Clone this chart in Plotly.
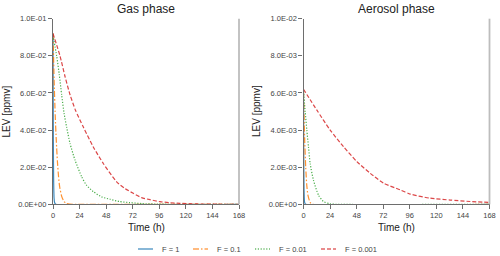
import plotly.graph_objects as go

# ---------------- data ----------------
series_names = ["F = 1", "F = 0.1", "F = 0.01", "F = 0.001"]
series_colors = ["#1f77b4", "#ff7f0e", "#2ca02c", "#d62728"]
series_dash = ["solid", "6px,2px,1.5px,2px", "1.2px,1.6px", "4px,2px"]

# Gas phase (ppmv)
gas_t_f1 = [0, 0.3, 0.6, 1.0, 1.5, 2.5, 168]
gas_v_f1 = [0.092, 0.035, 0.012, 0.003, 0.0008, 0.0, 0.0]
gas_t_f01 = [0, 1, 2, 3, 4, 5, 6, 8, 10, 12, 15, 20, 168]
gas_v_f01 = [0.092, 0.067, 0.048, 0.034, 0.023, 0.015, 0.0095, 0.004, 0.0015, 0.0005, 0.0001, 0.0, 0.0]
gas_t_f001 = [0, 3.3, 5.7, 7.8, 10, 12.3, 15.4, 19.9, 25.9, 30, 36.4, 44, 51.5, 60, 69.5, 80, 95, 110, 168]
gas_v_f001 = [0.091, 0.080, 0.0697, 0.059, 0.049, 0.0416, 0.0327, 0.0238, 0.0148, 0.0105, 0.0068,
              0.0040, 0.0027, 0.0015, 0.0009, 0.0004, 0.0001, 0.0, 0.0]
gas_t_f0001 = [0, 6.3, 10.8, 15.4, 20.3, 27.4, 36.4, 45.4, 57.5, 65, 72.5, 80, 87.6, 96.6, 105, 114.7, 130, 150, 168]
gas_v_f0001 = [0.092, 0.080, 0.069, 0.059, 0.0507, 0.0416, 0.0309, 0.022, 0.0121, 0.0085, 0.0059,
               0.0036, 0.0025, 0.0014, 0.0009, 0.0005, 0.0002, 0.00005, 0.0]

# Aerosol phase (ppmv)
aer_t_f1 = [0, 0.2, 0.5, 1, 2, 168]
aer_v_f1 = [0.0061, 0.003, 0.0008, 0.0001, 0.0, 0.0]
aer_t_f01 = [0, 0.5, 1, 2, 3, 4, 6, 8, 168]
aer_v_f01 = [0.0061, 0.0048, 0.0036, 0.0020, 0.0010, 0.0005, 0.0001, 0.0, 0.0]
aer_t_f001 = [0, 1.5, 3, 4.5, 6, 9, 13.5, 18, 24, 30, 168]
aer_v_f001 = [0.0061, 0.0050, 0.0040, 0.0031, 0.0022, 0.0013, 0.0005, 0.00015, 0.00003, 0.0, 0.0]
aer_t_f0001 = [0, 12.1, 24.1, 36.2, 48.2, 60.3, 72.3, 87.3, 96.4, 114.4, 132.5, 150.5, 168]
aer_v_f0001 = [0.0062, 0.00507, 0.0040, 0.0031, 0.0023, 0.00167, 0.00114, 0.00078, 0.00055,
               0.00033, 0.00023, 0.00015, 0.0001]

x_ticks = [0, 24, 48, 72, 96, 120, 144, 168]
gas_y_ticks = [0, 0.02, 0.04, 0.06, 0.08, 0.10]
gas_y_labels = ["0.0E+00", "2.0E-02", "4.0E-02", "6.0E-02", "8.0E-02", "1.0E-01"]
aer_y_ticks = [0, 0.002, 0.004, 0.006, 0.008, 0.010]
aer_y_labels = ["0.0E+00", "2.0E-03", "4.0E-03", "6.0E-03", "8.0E-03", "1.0E-02"]

panel_titles = ["Gas phase", "Aerosol phase"]
x_title = "Time (h)"
y_title = "LEV [ppmv]"

# ---------------- figure ----------------
FONT = "Liberation Sans, Arial, sans-serif"
W, H = 500, 256
fig = go.Figure()

gas = [(gas_t_f1, gas_v_f1), (gas_t_f01, gas_v_f01), (gas_t_f001, gas_v_f001), (gas_t_f0001, gas_v_f0001)]
aer = [(aer_t_f1, aer_v_f1), (aer_t_f01, aer_v_f01), (aer_t_f001, aer_v_f001), (aer_t_f0001, aer_v_f0001)]

for axes, data in ((("x", "y"), gas), (("x2", "y2"), aer)):
    for i, (t, v) in enumerate(data):
        fig.add_trace(go.Scatter(x=t, y=v, mode="lines", name=series_names[i], xaxis=axes[0], yaxis=axes[1],
                                 line=dict(color=series_colors[i], width=1.2, dash=series_dash[i],
                                           shape="spline", smoothing=0.6),
                                 opacity=0.85, showlegend=False))

dom_x1 = [53 / W, 239 / W]
dom_x2 = [303.5 / W, 489.5 / W]
dom_y = [(H - 204.3) / H, (H - 18.7) / H]

axis_common = dict(showgrid=False, zeroline=False, showline=True, linecolor="#6e6e6e", linewidth=1.3,
                   ticks="outside", ticklen=4, tickwidth=1, tickcolor="#6e6e6e", automargin=False,
                   tickfont=dict(family=FONT, size=7.5, color="#444444"))

fig.update_layout(
    width=W, height=H,
    margin=dict(l=0, r=0, t=0, b=0, autoexpand=False),
    paper_bgcolor="white", plot_bgcolor="white",
    font=dict(family=FONT, color="#333333"),
    xaxis=dict(domain=dom_x1, range=[0, 168], tickvals=x_ticks, anchor="y", **axis_common),
    yaxis=dict(domain=dom_y, range=[0, 0.1], tickvals=gas_y_ticks, ticktext=gas_y_labels,
               anchor="x", layer="above traces", **axis_common),
    xaxis2=dict(domain=dom_x2, range=[0, 168], tickvals=x_ticks, anchor="y2", **axis_common),
    yaxis2=dict(domain=dom_y, range=[0, 0.01], tickvals=aer_y_ticks, ticktext=aer_y_labels,
                anchor="x2", layer="above traces", **axis_common),
    showlegend=False,
)

# right spines (light grey)
for dom in (dom_x1, dom_x2):
    fig.add_shape(type="line", xref="paper", yref="paper", x0=dom[1], x1=dom[1], y0=dom_y[0], y1=dom_y[1],
                  line=dict(color="#bdbdbd", width=1.8))

# titles and axis labels
for dom, title in zip((dom_x1, dom_x2), panel_titles):
    cx = (dom[0] + dom[1]) / 2
    fig.add_annotation(text=title, xref="paper", yref="paper", x=cx, y=(H - 9) / H, showarrow=False,
                       font=dict(family=FONT, size=12, color="#222222"), xanchor="center", yanchor="middle")
    fig.add_annotation(text=x_title, xref="paper", yref="paper", x=cx, y=(H - 227) / H, showarrow=False,
                       font=dict(family=FONT, size=10, color="#222222"), xanchor="center", yanchor="middle")
    fig.add_annotation(text=y_title, xref="paper", yref="paper", x=(dom[0] * W - 47) / W,
                       y=(dom_y[0] + dom_y[1]) / 2, textangle=-90, showarrow=False,
                       font=dict(family=FONT, size=10, color="#222222"), xanchor="center", yanchor="middle")

# legend (drawn manually, bottom centre)
leg_line_x = [138, 193, 255, 321]
leg_y = (H - 249) / H
for i, name in enumerate(series_names):
    x0 = leg_line_x[i]
    fig.add_shape(type="line", xref="paper", yref="paper", x0=x0 / W, x1=(x0 + 15) / W, y0=leg_y, y1=leg_y,
                  line=dict(color=series_colors[i], width=1.5, dash=series_dash[i]), opacity=0.7)
    fig.add_annotation(text=name, xref="paper", yref="paper", x=(x0 + 22) / W, y=leg_y, showarrow=False,
                       xanchor="left", yanchor="middle", font=dict(family=FONT, size=7.5, color="#444444"))

fig.write_html("out.html", config={"displayModeBar": False},
               post_script="document.body.style.margin='0';document.body.style.overflow='hidden';")
